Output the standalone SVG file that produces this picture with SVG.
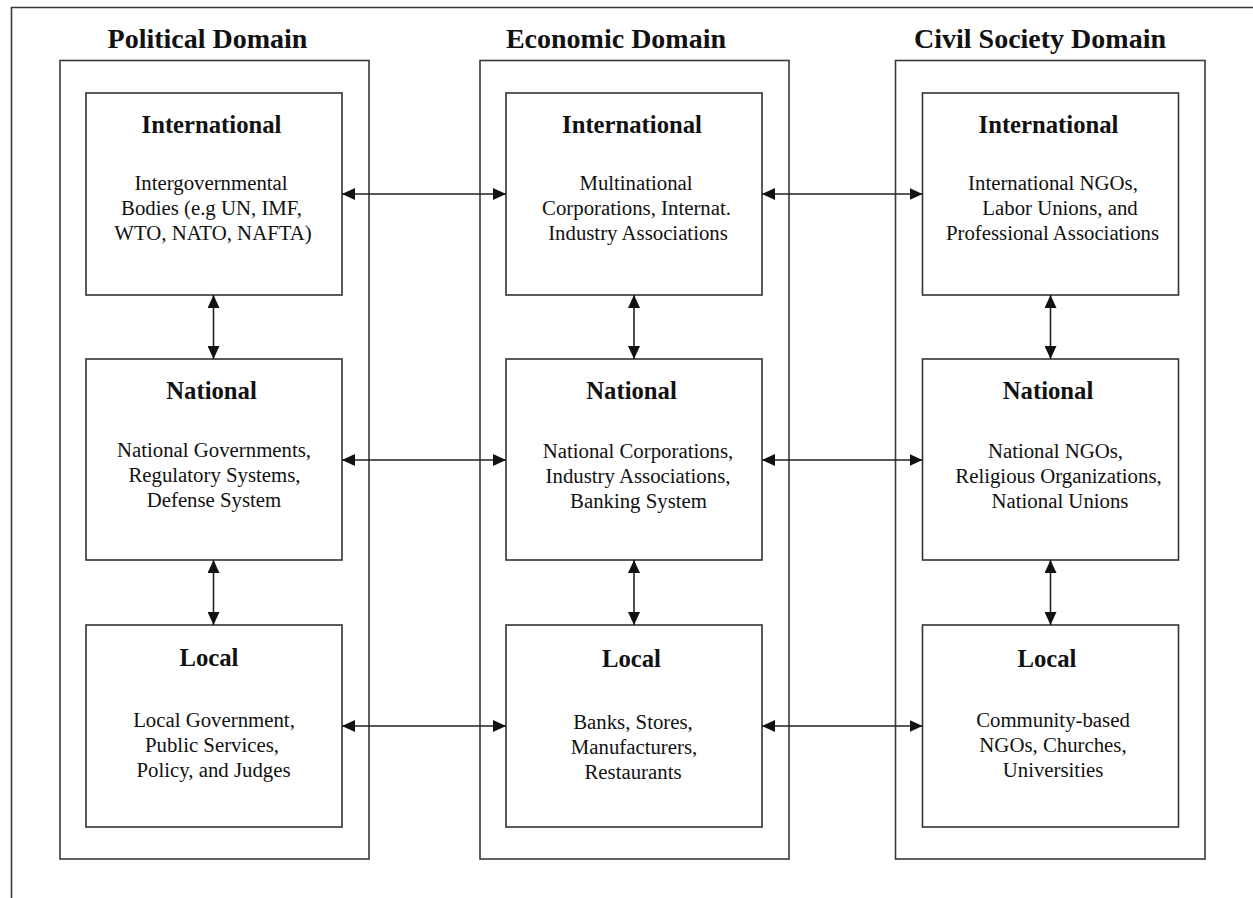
<svg xmlns="http://www.w3.org/2000/svg" width="1253" height="898" viewBox="0 0 1253 898">
<style>
.frame{fill:none;stroke:#3a3a3a;stroke-width:1.6}
.dom{fill:none;stroke:#3a3a3a;stroke-width:1.6}
.box{fill:#fff;stroke:#333;stroke-width:1.6}
.title{font-family:"Liberation Serif",serif;font-weight:bold;font-size:28px;fill:#111;text-anchor:middle}
.head{font-family:"Liberation Serif",serif;font-weight:bold;font-size:24.7px;fill:#111;text-anchor:middle}
.body{font-family:"Liberation Serif",serif;font-size:20.8px;fill:#111;text-anchor:middle}
.con{stroke:#222;stroke-width:1.6;fill:none;marker-start:url(#ah);marker-end:url(#ah)}
</style>
<defs>
<marker id="ah" markerUnits="userSpaceOnUse" viewBox="0 0 13 12" refX="13" refY="6" markerWidth="13" markerHeight="12" orient="auto-start-reverse">
<path d="M0,0 L13,6 L0,12 z" fill="#111"/>
</marker>
</defs>
<rect width="1253" height="898" fill="#fff"/>
<path class="frame" d="M11.5,898 V7.5 H1253"/>
<g id="political-domain">
<rect class="dom" x="60" y="60.5" width="309" height="798.5"/>
<text class="title" x="207.5" y="48">Political Domain</text>
</g>
<g id="economic-domain">
<rect class="dom" x="480" y="60.5" width="309" height="798.5"/>
<text class="title" x="616" y="48">Economic Domain</text>
</g>
<g id="civil-domain">
<rect class="dom" x="895.5" y="60.5" width="309.5" height="798.5"/>
<text class="title" x="1040" y="48">Civil Society Domain</text>
</g>
<g id="pol-int">
<rect class="box" x="86" y="93" width="256" height="202"/>
<text class="head" x="211.5" y="133">International</text>
<text class="body" x="212"><tspan x="211" y="190">Intergovernmental</tspan><tspan x="211.5" y="215">Bodies (e.g UN, IMF,</tspan><tspan x="213" y="240">WTO, NATO, NAFTA)</tspan></text>
</g>
<g id="pol-nat">
<rect class="box" x="86" y="359" width="256" height="201"/>
<text class="head" x="211.5" y="399">National</text>
<text class="body"><tspan x="214" y="457">National Governments,</tspan><tspan x="214.5" y="482">Regulatory Systems,</tspan><tspan x="214" y="507">Defense System</tspan></text>
</g>
<g id="pol-loc">
<rect class="box" x="86" y="625" width="256" height="202"/>
<text class="head" x="209" y="666">Local</text>
<text class="body"><tspan x="214" y="727">Local Government,</tspan><tspan x="212" y="752">Public Services,</tspan><tspan x="213.5" y="777">Policy, and Judges</tspan></text>
</g>
<g id="eco-int">
<rect class="box" x="506" y="93" width="256" height="202"/>
<text class="head" x="632" y="133">International</text>
<text class="body"><tspan x="636" y="190">Multinational</tspan><tspan x="636.5" y="215">Corporations, Internat.</tspan><tspan x="638" y="240">Industry Associations</tspan></text>
</g>
<g id="eco-nat">
<rect class="box" x="506" y="359" width="256" height="201"/>
<text class="head" x="631.5" y="399">National</text>
<text class="body"><tspan x="638" y="458">National Corporations,</tspan><tspan x="638" y="483">Industry Associations,</tspan><tspan x="638.5" y="508">Banking System</tspan></text>
</g>
<g id="eco-loc">
<rect class="box" x="506" y="625" width="256" height="202"/>
<text class="head" x="631.5" y="666.5">Local</text>
<text class="body"><tspan x="633" y="729">Banks, Stores,</tspan><tspan x="634" y="754">Manufacturers,</tspan><tspan x="633" y="779">Restaurants</tspan></text>
</g>
<g id="civ-int">
<rect class="box" x="922.5" y="93" width="256" height="202"/>
<text class="head" x="1048.5" y="133">International</text>
<text class="body"><tspan x="1053" y="190">International NGOs,</tspan><tspan x="1060" y="215">Labor Unions, and</tspan><tspan x="1052.5" y="240">Professional Associations</tspan></text>
</g>
<g id="civ-nat">
<rect class="box" x="922.5" y="359" width="256" height="201"/>
<text class="head" x="1048" y="399">National</text>
<text class="body"><tspan x="1055.5" y="458">National NGOs,</tspan><tspan x="1058.5" y="483">Religious Organizations,</tspan><tspan x="1060" y="508">National Unions</tspan></text>
</g>
<g id="civ-loc">
<rect class="box" x="922.5" y="625" width="256" height="202"/>
<text class="head" x="1047" y="666.5">Local</text>
<text class="body"><tspan x="1053" y="727">Community-based</tspan><tspan x="1053" y="752">NGOs, Churches,</tspan><tspan x="1053" y="777">Universities</tspan></text>
</g>
<g id="connectors">
<line class="con" x1="342" y1="194" x2="506" y2="194"/>
<line class="con" x1="762" y1="194" x2="922.5" y2="194"/>
<line class="con" x1="342" y1="460" x2="506" y2="460"/>
<line class="con" x1="762" y1="460" x2="922.5" y2="460"/>
<line class="con" x1="342" y1="726" x2="506" y2="726"/>
<line class="con" x1="762" y1="726" x2="922.5" y2="726"/>
<line class="con" x1="213.5" y1="295" x2="213.5" y2="359"/>
<line class="con" x1="213.5" y1="560" x2="213.5" y2="625"/>
<line class="con" x1="634" y1="295" x2="634" y2="359"/>
<line class="con" x1="634" y1="560" x2="634" y2="625"/>
<line class="con" x1="1050.5" y1="295" x2="1050.5" y2="359"/>
<line class="con" x1="1050.5" y1="560" x2="1050.5" y2="625"/>
</g>
</svg>
